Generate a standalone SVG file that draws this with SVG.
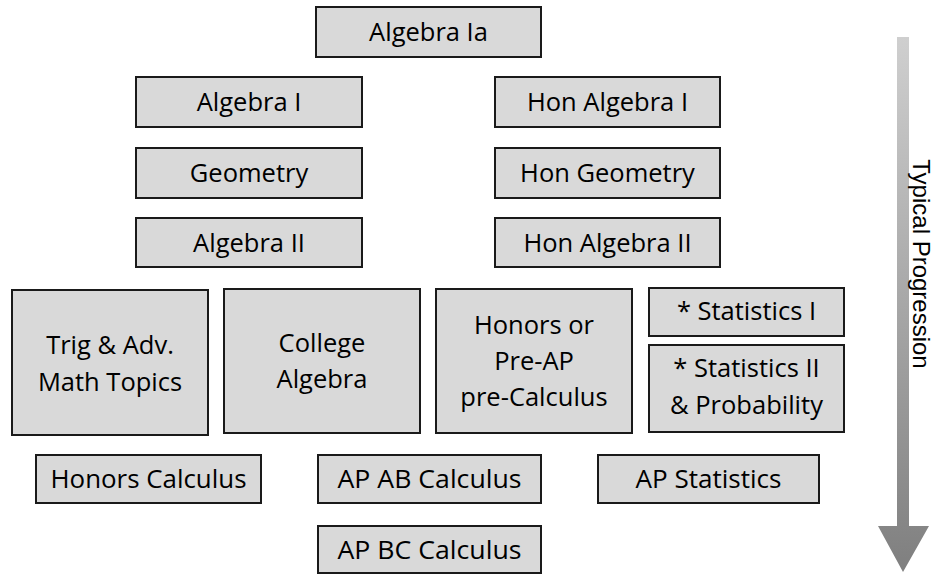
<svg xmlns="http://www.w3.org/2000/svg" width="936" height="575" viewBox="0 0 936 575">
<defs>
<linearGradient id="ag" x1="0" y1="0" x2="0" y2="1">
<stop offset="0" stop-color="#cfcfcf"/>
<stop offset="1" stop-color="#7f7f7f"/>
</linearGradient>
</defs>
<style>
.b{fill:#d9d9d9;stroke:#1a1a1a;stroke-width:2}
.t{font-family:"Open Sans","Noto Sans",sans-serif;font-size:25.5px;fill:#000;text-anchor:middle}
.n{font-family:"Open Sans","Noto Sans",sans-serif;font-size:25.5px;fill:#000;text-anchor:middle}
.v{font-family:"Liberation Sans",Arial,sans-serif;font-size:24px;fill:#000;text-anchor:middle}
</style>
<rect width="936" height="575" fill="#fff"/>
<g id="algebra-ia"><rect class="b" x="316" y="7" width="225" height="50"/><text class="t" x="428.5" y="41">Algebra Ia</text></g>
<g id="algebra-i"><rect class="b" x="136" y="77" width="226" height="50"/><text class="t" x="249" y="111">Algebra I</text></g>
<g id="geometry"><rect class="b" x="136" y="148" width="226" height="50"/><text class="t" x="249" y="182">Geometry</text></g>
<g id="algebra-ii"><rect class="b" x="136" y="218" width="226" height="49"/><text class="t" x="249" y="252">Algebra II</text></g>
<g id="hon-algebra-i"><rect class="b" x="495" y="77" width="225" height="50"/><text class="t" x="607.5" y="111">Hon Algebra I</text></g>
<g id="hon-geometry"><rect class="b" x="495" y="148" width="225" height="50"/><text class="t" x="607.5" y="182">Hon Geometry</text></g>
<g id="hon-algebra-ii"><rect class="b" x="495" y="218" width="225" height="49"/><text class="t" x="607.5" y="252">Hon Algebra II</text></g>
<g id="trig"><rect class="b" x="12" y="290" width="196" height="145"/><text class="t" x="110" y="354">Trig &amp; Adv.</text><text class="t" x="110" y="391">Math Topics</text></g>
<g id="college-algebra"><rect class="b" x="224" y="289" width="196" height="144"/><text class="t" x="322" y="352">College</text><text class="t" x="322" y="388">Algebra</text></g>
<g id="pre-calculus"><rect class="b" x="436" y="289" width="196" height="144"/><text class="t" x="534" y="334">Honors or</text><text class="t" x="534" y="370">Pre-AP</text><text class="t" x="534" y="406">pre-Calculus</text></g>
<g id="statistics-i"><rect class="b" x="649" y="288" width="195" height="48"/><text class="t" x="746.5" y="320">* Statistics I</text></g>
<g id="statistics-ii"><rect class="b" x="649" y="345" width="195" height="87"/><text class="t" x="746.5" y="377">* Statistics II</text><text class="t" x="746.5" y="414">&amp; Probability</text></g>
<g id="honors-calculus"><rect class="b" x="36" y="455" width="225" height="48"/><text class="n" x="148.5" y="488" textLength="196" lengthAdjust="spacingAndGlyphs">Honors Calculus</text></g>
<g id="ap-ab-calculus"><rect class="b" x="318" y="455" width="223" height="48"/><text class="n" x="429.5" y="488" textLength="184" lengthAdjust="spacingAndGlyphs">AP AB Calculus</text></g>
<g id="ap-statistics"><rect class="b" x="598" y="455" width="221" height="48"/><text class="n" x="708.5" y="488" textLength="146" lengthAdjust="spacingAndGlyphs">AP Statistics</text></g>
<g id="ap-bc-calculus"><rect class="b" x="318" y="526" width="223" height="47"/><text class="n" x="429.5" y="559" textLength="184" lengthAdjust="spacingAndGlyphs">AP BC Calculus</text></g>
<g id="connectors">
<g id="progression-arrow">
<path d="M897 37 H909 V526 H929 L903 572 L878 526 H897 Z" fill="url(#ag)"/>
</g>
</g>
<text class="v" transform="translate(913,264) rotate(90)">Typical Progression</text>
</svg>
